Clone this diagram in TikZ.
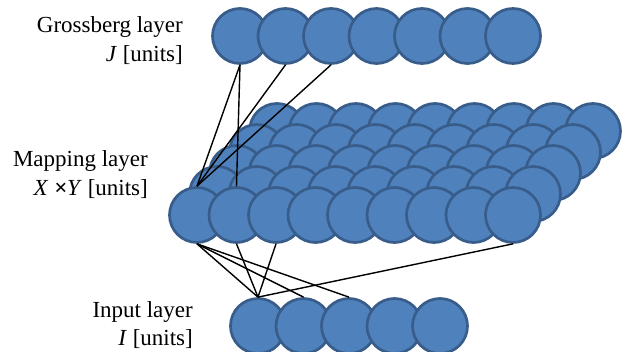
\documentclass[tikz,border=0pt]{standalone}
\usepackage{fontspec}
\setmainfont{Liberation Serif}
\definecolor{unitfill}{HTML}{4F81BD}
\definecolor{unitline}{HTML}{385D8A}
\begin{document}
\begin{tikzpicture}[x=1pt,y=-1pt,
  unit/.style={circle,draw=unitline,fill=unitfill,line width=2.7pt,minimum size=55pt,inner sep=0pt},
  conn/.style={draw=black,line width=1.4pt},
  lbl/.style={anchor=base east,inner sep=0pt,font=\fontsize{23}{27}\selectfont}]
\useasboundingbox (0,0) rectangle (630,352);
% Grossberg layer
\foreach \c in {1,...,7}
  \node[unit] (g\c) at ({240+(\c-1)*45.5},36) {};
% Mapping layer (back row 1 to front row 5)
\foreach \r in {1,...,5}
  \foreach \c in {1,...,9}
    \node[unit] (m-\r-\c) at ({197+(\c-1)*39.5+(5-\r)*20},{215-(5-\r)*21}) {};
% Input layer
\foreach \c in {1,...,5}
  \node[unit] (i\c) at ({258+(\c-1)*45.5},326) {};
% connectors
\draw[conn] (g1.south) -- (m-5-1.north);
\draw[conn] (g1.south) -- (m-5-2.north);
\draw[conn] (g2.south) -- (m-5-1.north);
\draw[conn] (g3.south) -- (m-5-1.north);
\draw[conn] (m-5-1.south) -- (i1.north);
\draw[conn] (m-5-1.south) -- (i2.north);
\draw[conn] (m-5-1.south) -- (i3.north);
\draw[conn] (m-5-2.south) -- (i1.north);
\draw[conn] (m-5-3.south) -- (i1.north);
\draw[conn] (m-5-9.south) -- (i1.north);
% labels
\node[lbl] (tg1) at (183,33) {Grossberg layer};
\node[lbl] (tg2) at (183,62) {\textit{J} [units]};
\node[lbl] (tm1) at (148,167) {Mapping layer};
\node[lbl] (tm2) at (148,196) {\textit{X} \textbf{\textit{×}}\textit{Y} [units]};
\node[lbl] (ti1) at (193,318) {Input layer};
\node[lbl] (ti2) at (193,346) {\textit{I} [units]};
\end{tikzpicture}
\end{document}
